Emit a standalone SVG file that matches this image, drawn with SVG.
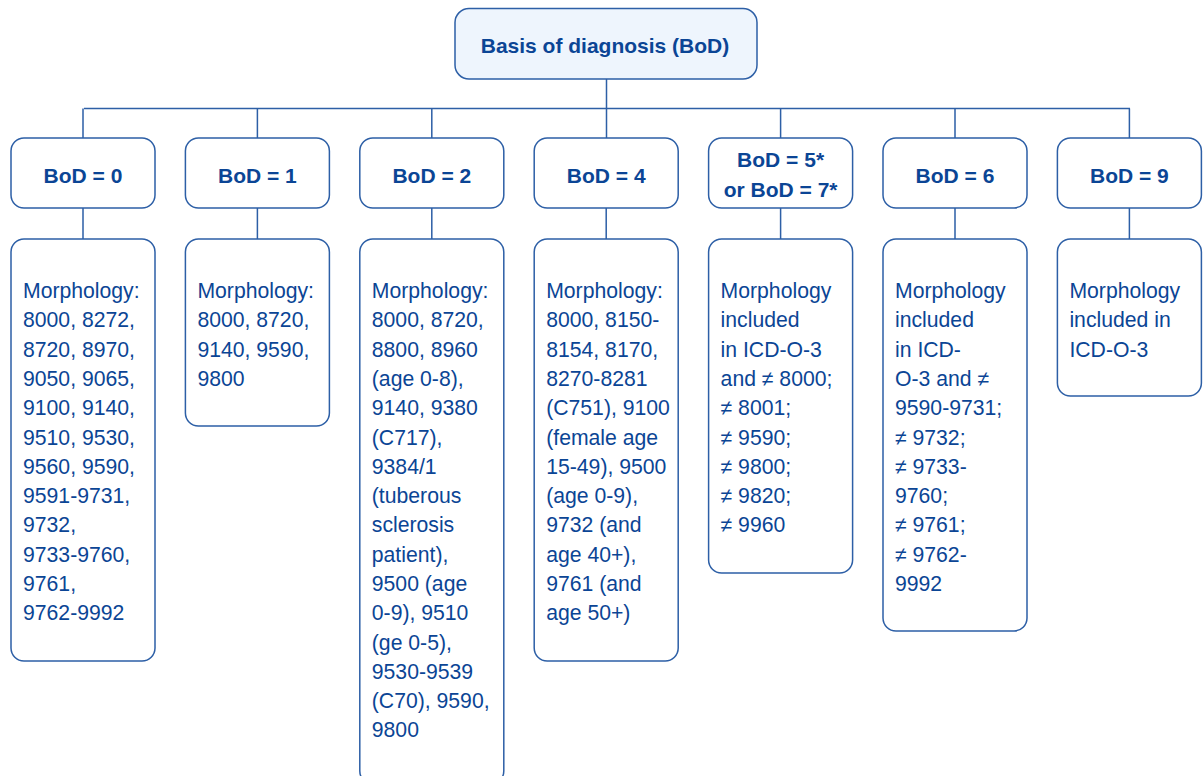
<svg xmlns="http://www.w3.org/2000/svg" width="1204" height="776" viewBox="0 0 1204 776">
<style>
.box{fill:#fff;stroke:#2d5fa6;stroke-width:1.5}
.top{fill:#eef5fd;stroke:#2d5fa6;stroke-width:1.5}
.ln{fill:none;stroke:#2d5fa6;stroke-width:1.5}
.lbl{font-family:"Liberation Sans",Arial,sans-serif;font-weight:bold;font-size:21px;fill:#0b4595;text-anchor:middle}
.txt{font-family:"Liberation Sans",Arial,sans-serif;font-size:21.2px;fill:#0b4595}
</style>
<rect width="1204" height="776" fill="#fff"/>
<g id="connectors">
<path class="ln" d="M606.5 79V138M84 108.5H1130"/>
<path class="ln" d="M83 108.5V138M257.4 108.5V138M431.8 108.5V138M780.6 108.5V138M955 108.5V138M1129.4 108.5V138"/>
<path class="ln" d="M83 208V239M257.4 208V239M431.8 208V239M606.2 208V239M780.6 208V239M955 208V239M1129.4 208V239"/>
</g>
<g id="root">
<rect class="top" x="455" y="8.5" width="302" height="70.5" rx="14"/>
<text class="lbl" x="605" y="52.5">Basis of diagnosis (BoD)</text>
</g>
<g id="bod0">
<rect class="box" x="11" y="138" width="144" height="70" rx="13"/>
<text class="lbl" x="83" y="182.5">BoD = 0</text>
</g>
<g id="bod1">
<rect class="box" x="185.4" y="138" width="144" height="70" rx="13"/>
<text class="lbl" x="257.4" y="182.5">BoD = 1</text>
</g>
<g id="bod2">
<rect class="box" x="359.8" y="138" width="144" height="70" rx="13"/>
<text class="lbl" x="431.8" y="182.5">BoD = 2</text>
</g>
<g id="bod4">
<rect class="box" x="534.2" y="138" width="144" height="70" rx="13"/>
<text class="lbl" x="606.2" y="182.5">BoD = 4</text>
</g>
<g id="bod57">
<rect class="box" x="708.6" y="138" width="144" height="70" rx="13"/>
<text class="lbl" x="780.6" y="167">BoD = 5*</text>
<text class="lbl" x="780.6" y="197">or BoD = 7*</text>
</g>
<g id="bod6">
<rect class="box" x="883" y="138" width="144" height="70" rx="13"/>
<text class="lbl" x="955" y="182.5">BoD = 6</text>
</g>
<g id="bod9">
<rect class="box" x="1057.4" y="138" width="144" height="70" rx="13"/>
<text class="lbl" x="1129.4" y="182.5">BoD = 9</text>
</g>
<g id="m0">
<rect class="box" x="11" y="239" width="144" height="422" rx="13"/>
<text class="txt" x="23" y="298">
<tspan x="23">Morphology:</tspan><tspan x="23" dy="29.3">8000, 8272,</tspan><tspan x="23" dy="29.3">8720, 8970,</tspan><tspan x="23" dy="29.3">9050, 9065,</tspan><tspan x="23" dy="29.3">9100, 9140,</tspan><tspan x="23" dy="29.3">9510, 9530,</tspan><tspan x="23" dy="29.3">9560, 9590,</tspan><tspan x="23" dy="29.3">9591-9731,</tspan><tspan x="23" dy="29.3">9732,</tspan><tspan x="23" dy="29.3">9733-9760,</tspan><tspan x="23" dy="29.3">9761,</tspan><tspan x="23" dy="29.3">9762-9992</tspan>
</text>
</g>
<g id="m1">
<rect class="box" x="185.4" y="239" width="144" height="187" rx="13"/>
<text class="txt" x="197.4" y="298">
<tspan x="197.4">Morphology:</tspan><tspan x="197.4" dy="29.3">8000, 8720,</tspan><tspan x="197.4" dy="29.3">9140, 9590,</tspan><tspan x="197.4" dy="29.3">9800</tspan>
</text>
</g>
<g id="m2">
<rect class="box" x="359.8" y="239" width="144" height="545" rx="13"/>
<text class="txt" x="371.8" y="298">
<tspan x="371.8">Morphology:</tspan><tspan x="371.8" dy="29.3">8000, 8720,</tspan><tspan x="371.8" dy="29.3">8800, 8960</tspan><tspan x="371.8" dy="29.3">(age 0-8),</tspan><tspan x="371.8" dy="29.3">9140, 9380</tspan><tspan x="371.8" dy="29.3">(C717),</tspan><tspan x="371.8" dy="29.3">9384/1</tspan><tspan x="371.8" dy="29.3">(tuberous</tspan><tspan x="371.8" dy="29.3">sclerosis</tspan><tspan x="371.8" dy="29.3">patient),</tspan><tspan x="371.8" dy="29.3">9500 (age</tspan><tspan x="371.8" dy="29.3">0-9), 9510</tspan><tspan x="371.8" dy="29.3">(ge 0-5),</tspan><tspan x="371.8" dy="29.3">9530-9539</tspan><tspan x="371.8" dy="29.3">(C70), 9590,</tspan><tspan x="371.8" dy="29.3">9800</tspan>
</text>
</g>
<g id="m4">
<rect class="box" x="534.2" y="239" width="144" height="422" rx="13"/>
<text class="txt" x="546.2" y="298">
<tspan x="546.2">Morphology:</tspan><tspan x="546.2" dy="29.3">8000, 8150-</tspan><tspan x="546.2" dy="29.3">8154, 8170,</tspan><tspan x="546.2" dy="29.3">8270-8281</tspan><tspan x="546.2" dy="29.3">(C751), 9100</tspan><tspan x="546.2" dy="29.3">(female age</tspan><tspan x="546.2" dy="29.3">15-49), 9500</tspan><tspan x="546.2" dy="29.3">(age 0-9),</tspan><tspan x="546.2" dy="29.3">9732 (and</tspan><tspan x="546.2" dy="29.3">age 40+),</tspan><tspan x="546.2" dy="29.3">9761 (and</tspan><tspan x="546.2" dy="29.3">age 50+)</tspan>
</text>
</g>
<g id="m57">
<rect class="box" x="708.6" y="239" width="144" height="334" rx="13"/>
<text class="txt" x="720.6" y="298">
<tspan x="720.6">Morphology</tspan><tspan x="720.6" dy="29.3">included</tspan><tspan x="720.6" dy="29.3">in ICD-O-3</tspan><tspan x="720.6" dy="29.3">and ≠ 8000;</tspan><tspan x="720.6" dy="29.3">≠ 8001;</tspan><tspan x="720.6" dy="29.3">≠ 9590;</tspan><tspan x="720.6" dy="29.3">≠ 9800;</tspan><tspan x="720.6" dy="29.3">≠ 9820;</tspan><tspan x="720.6" dy="29.3">≠ 9960</tspan>
</text>
</g>
<g id="m6">
<rect class="box" x="883" y="239" width="144" height="392" rx="13"/>
<text class="txt" x="895" y="298">
<tspan x="895">Morphology</tspan><tspan x="895" dy="29.3">included</tspan><tspan x="895" dy="29.3">in ICD-</tspan><tspan x="895" dy="29.3">O-3 and ≠</tspan><tspan x="895" dy="29.3">9590-9731;</tspan><tspan x="895" dy="29.3">≠ 9732;</tspan><tspan x="895" dy="29.3">≠ 9733-</tspan><tspan x="895" dy="29.3">9760;</tspan><tspan x="895" dy="29.3">≠ 9761;</tspan><tspan x="895" dy="29.3">≠ 9762-</tspan><tspan x="895" dy="29.3">9992</tspan>
</text>
</g>
<g id="m9">
<rect class="box" x="1057.4" y="239" width="144" height="157" rx="13"/>
<text class="txt" x="1069.4" y="298">
<tspan x="1069.4">Morphology</tspan><tspan x="1069.4" dy="29.3">included in</tspan><tspan x="1069.4" dy="29.3">ICD-O-3</tspan>
</text>
</g>
</svg>
